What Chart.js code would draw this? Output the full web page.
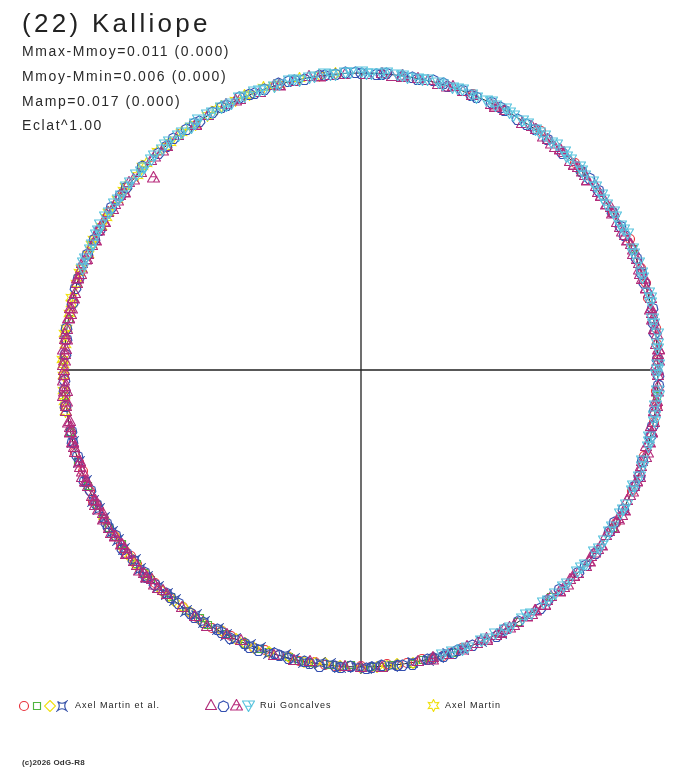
<!DOCTYPE html>
<html>
<head>
<meta charset="utf-8">
<script src="https://cdn.jsdelivr.net/npm/chart.js@4/dist/chart.umd.min.js"></script>
<style>
html, body { margin: 0; padding: 0; background: #fff; }
#wrap { position: relative; width: 688px; height: 768px; overflow: hidden; font-family: "Liberation Sans", Arial, sans-serif; color: #222; }
#wrap canvas { position: absolute; left: 0; top: 0; }
.t { position: absolute; white-space: nowrap; line-height: 1; }
.info { font-size: 14px; letter-spacing: 1.6px; color: #2a2a2a; }
.leg { font-size: 9px; letter-spacing: 1px; color: #222; }
</style>
</head>
<body>
<div id="wrap">
    <canvas id="lightcurve" width="688" height="768"></canvas>
    <div class="t" style="left:22px;top:10px;font-size:26px;letter-spacing:3.3px;">(22) Kalliope</div>
    <div class="t info" style="left:22px;top:44px;">Mmax-Mmoy=0.011 (0.000)</div>
    <div class="t info" style="left:22px;top:69px;">Mmoy-Mmin=0.006 (0.000)</div>
    <div class="t info" style="left:22px;top:94px;">Mamp=0.017 (0.000)</div>
    <div class="t info" style="left:22px;top:118px;">Eclat^1.00</div>
    <div class="t leg" style="left:75px;top:701px;">Axel Martin et al.</div>
    <div class="t leg" style="left:260px;top:701px;">Rui Goncalves</div>
    <div class="t leg" style="left:445px;top:701px;">Axel Martin</div>
    <div class="t" style="left:22px;top:759px;font-size:8px;font-weight:bold;letter-spacing:0.2px;color:#333;">(c)2026 OdG-R8</div>
</div>
<script>
// Phase in degrees (clockwise from top), magnitude offset in millimag

// Axel Martin et al.
const amCirclePhase = [22, 29, 37, 46, 58, 64, 70, 76, 82, 88, 94, 100, 107, 114, 121,
    160, 164, 168, 171, 175, 178, 182, 185, 189, 192, 196, 199, 203, 206, 210,
    213, 217, 220, 224, 227, 231, 234, 238, 242, 246, 250, 254, 258, 263, 269,
    162, 173, 180, 187, 194, 201, 208, 215, 222, 229, 236, 244, 252, 73, 85, 97];
const amCircleMag = [-3, 2, -6, -4, 1, -7, -2, 3, -5, 0,
    4, -1, 5, 2, -3, 4, -1, 5, 2, 6,
    -2, 3, 0, 5, -3, 1, 4, -2, 2, -4,
    0, 3, -1, 4, -2, 5, 1, -3, 2, 0,
    4, -2, 3, 1, -1,
    2, -3, 5, 0, 3, -2, 4, 1, -1, 3, 0, -4, 2, -5, 1, -3];

const amSquarePhase = [48, 66, 95, 122, 140, 148, 162, 166, 170, 174, 178, 182, 186, 190, 194, 198,
    203, 207, 211, 216, 220, 225, 229, 234, 238, 243, 247, 252, 258, 265, 272, 280,
    168, 176, 184, 192, 200, 213, 227, 240];
const amSquareMag = [2, -3, 0, -2, 3, 1, -1, 1, -4, 3,
    -1, 5, 0, -2, 4, 1, -3, 2, 0, -4,
    3, -1, 2, 4, -2, 1, 3, -3, 0, 2,
    -1, 2,
    3, -1, 2, -3, 1, 4, 0, -2];

const amDiamondPhase = [166, 170, 173, 177, 180, 184, 187, 191, 194, 198, 201, 205, 208, 212, 215, 219,
    222, 226, 229, 233, 236, 240, 175, 189, 203, 217, 231];
const amDiamondMag = [1, -2, 4, 0, -3, 2, 5, -1, 3, 0, -2, 1, 4, -3, 2, 0, -1, 3, -2, 1, 2, -1,
    -1, 2, 0, 3, -2];

const amCrossPhase = [152, 156, 160, 163, 167, 170, 174, 177, 181, 184, 188, 191, 195, 198, 202,
    205, 209, 212, 216, 219, 223, 226, 230, 233, 237, 240, 244, 248, 252, 256,
    165, 179, 186, 193, 200, 207, 214, 221, 228, 235, 242];
const amCrossMag = [-2, 3, 0, 5, -1, 2, -4, 4, 1, -2,
    3, 0, 6, -3, 2, -1, 4, 1, -2, 3,
    0, -3, 5, 1, -1, 2, -4, 3, 0, 2,
    1, -2, 4, 0, 3, -1, 5, 2, -3, 1, 3];

// Rui Goncalves
const rgTrianglePhase = [1, 4, 8, 11, 15, 18, 22, 26, 29, 33, 36, 39,
    41, 43, 45, 47, 50, 52, 54, 56, 58, 61, 63, 65, 67, 69, 72, 74, 76, 78, 80, 83, 85, 87, 89, 91,
    94, 96, 98, 100, 102, 105, 107, 109, 111, 113, 116, 118, 120, 122, 124, 127, 129, 131, 133, 135,
    138, 140, 142, 144, 146, 149, 151, 153, 155, 157, 159,
    163, 169, 176, 183, 190, 197, 204, 211, 217,
    221, 223, 225, 227, 230, 232, 234, 236, 238, 241, 243, 245, 247, 249, 252, 254, 256, 258, 260, 263,
    265, 267, 269, 271, 274, 276, 278, 280, 282, 285, 287, 289, 291, 293, 296, 298, 300, 302, 304, 307, 309,
    312, 315, 319, 322, 326, 329, 333, 336, 340, 343, 347, 350, 354, 357,
    42, 46, 49, 53, 57, 60, 64, 68, 71, 75, 79, 82, 86, 90, 93, 97, 101, 104, 108, 112,
    115, 119, 123, 126, 130, 134, 137, 141, 145, 148, 152, 156,
    222, 226, 229, 233, 237, 240, 244, 248, 251, 255, 259, 262, 266, 270, 273, 277, 281, 284, 288, 292,
    295, 299, 303, 306,
    344, 352, 6, 13, 20, 27, 35,
    166, 180, 193, 207, 214];
const rgTriangleMag = [2, -4, 5, -1, 3, -6, 0, 4, -3, 7,
    -2, 1, 6, -5, 3, -1, 8, -4, 2, 0,
    -7, 4, 1, -3, 5, -2, 6, 0, -5, 3,
    1, -6, 4, -2, 7, -1, 2, -4, 5, -3,
    0, 6, -2, 3, -7, 1, 4, -3, 2, -5,
    7, -1, 3, -4, 0, 5, -2, 6, -6, 1,
    3, -3, 4, 0, -5, 2, 6, -1, 3, -4,
    1, 5, -2, 4, -6, 0, 3, -3, 7, -1,
    2, -5, 4, 1, -2, 6, -4, 0, 3, -7,
    5, -1, 2, -3, 4, 0, -6, 3, 1, -2,
    6, -4, 2, 0, -3, 5, -1, 4, -5, 1,
    3, -2, 7, -4, 0, 2, -6, 5, -1, 3,
    -3, 4, 0, -5, 2, 6, -2, 1, -4, 3,
    1,
    -3, 5, -1, 2, -6, 4, 0, -2, 6, -4,
    1, 3, -5, 2, 0, -3, 7, -1, 4, -2,
    2, -6, 5, 0, -3, 3, -1, 6, -4, 1,
    -2, 4,
    5, -3, 1, 4, -5, 2, -1, 6, -2, 0,
    3, -4, 7, -1, 2, -6, 4, 0, -3, 5,
    1, -2, 3, -5,
    2, -1, 4, -3, 0, 5, -2,
    3, 1, -2, 4, 0];

const rgPolygonPhase = [321, 324, 327, 330, 333, 336, 338, 341, 344, 347, 349, 352, 355, 357,
    0, 3, 5, 8, 11, 14, 17, 20, 23, 26, 29, 32, 36, 39,
    43, 48, 53, 58, 63, 68, 73, 78, 83, 88, 93, 98, 103, 108, 113, 118, 123, 128, 133, 138, 143, 148, 153, 158,
    161, 164, 167, 170, 173, 176, 179, 182, 185, 188, 191, 194, 197, 200, 203, 206, 209, 212, 215, 218,
    221, 224, 227, 230, 233, 236, 239,
    243, 248, 253, 258, 263, 268, 273, 278, 283, 288, 293, 298, 303, 308, 313, 317,
    319, 326, 332, 339, 346, 353, 359, 4, 10, 16, 22, 28, 34,
    50, 61, 71, 81, 91, 101, 111, 121, 131, 141, 151,
    162, 166, 172, 178, 184, 190, 196, 202, 208, 214, 220, 226, 232, 238,
    246, 256, 266, 276, 286, 296, 306];
const rgPolygonMag = [-3, 1, 4, -1, 2, -4, 0, 3, -2, 1,
    5, -1, 2, -3, 0, 4, -2, 1, 3, -4,
    2, 0, 5, -1, 3, 6, -2, 1, 4, 0,
    -3, 2, 5, -1, 1, -2, 3, 0, -4, 2,
    -1, 3, 0, -3, 2, -2, 1, 4, -5, 0,
    -6, -2, 1, -4, -1, -7, -3, 2, -5, 0,
    -4, -8, -1, -3, 1, -6, -2, -5, 0, -3,
    -2, 4, 1, -3, 2, 0, -4, 3, -1, 2,
    -5, 1, 3, -2, 0, 4, -3, 2, -1, 1,
    3, -2, 0, -4, 2,
    2, -2, 0, 3, -3, 1, -1, 4, 0, -2, 3, -1, 1,
    -3, 2, 0, 4, -2, 1, -4, 3, -1, 2, 0,
    -5, -2, -6, -1, -4, -3, 0, -7, -2, -4, 1, -5, -3, -1,
    2, -3, 1, 3, -1, 0, -2];

const rgTriplePhase = [38, 42, 46, 50, 54, 58, 62, 66, 70, 74, 78, 82, 86, 90, 94, 98, 102, 106, 110, 114,
    118, 122, 126, 130, 134, 138, 142, 146, 150, 155,
    224, 228, 232, 236, 240, 244, 248, 252, 256, 260, 264, 268, 272, 276, 280, 284, 288, 292, 296, 300,
    305, 310, 313, 318,
    326, 335, 344, 352, 8, 17, 27,
    40, 48, 56, 64, 72, 80, 88, 96, 104, 112, 120, 128, 136, 144, 152,
    226, 234, 242, 250, 258, 266, 274, 282, 290, 298, 307, 316,
    160, 166];
const rgTripleMag = [2, -3, 1, 4, -2, 0, 3, -4, 1, -1,
    5, 0, -3, 2, -1, 4, 0, -2, 3, 1,
    -4, 2, 0, -3, 5, 1, -2, 3, -1, 4,
    0, -5, 2, 1, -3, 4, -1, 2, -2, 0,
    3, -4, 1, 5, -1, 2, -3, 0, 4, -2,
    1, -1, 50, 2, 3, -3, 0, 2, -2, 1,
    -1,
    1, -2, 3, 0, -4, 2, -1, 4, -3, 1, 0, 3, -2, 2, -1,
    -3, 2, 0, 4, -1, 1, -4, 3, 0, -2, 2, -1,
    1, -2];

const rgFanPhase = [290, 292, 295, 297, 299, 302, 304, 306, 309, 311, 313, 316, 318, 320, 323,
    325, 327, 330, 332, 334, 337, 339, 341, 344, 346, 348, 351, 353, 355, 358,
    0, 2, 4, 7, 9, 11, 13, 16, 18, 20, 22, 25, 27, 29, 31, 34, 36, 38, 40, 43, 45, 47, 49, 52, 54, 56, 58,
    61, 63, 66, 69, 72, 75, 77, 80, 83, 86, 89, 91, 94, 97, 100, 103, 105, 108, 111, 114, 117, 119,
    122, 125, 128, 131, 133, 136, 139, 142, 145, 147, 150, 153, 156, 159, 162,
    291, 294, 298, 301, 305, 308, 312, 315, 319, 322, 326, 329, 333, 336, 340, 343, 347, 350, 354, 357,
    1, 5, 8, 12, 15, 19, 23, 26, 30, 33, 37, 41, 44, 48, 51, 55, 59,
    62, 67, 71, 76, 81, 85, 90, 95, 99, 104, 109, 113, 118, 123, 127, 132, 137, 141, 146, 151, 155, 160, 164];
const rgFanMag = [1, -2, 3, 0, -4, 2, -1, 4, 0, -3,
    2, -1, 3, -2, 0, 4, -3, 1, -1, 2,
    0, -3, 3, 1, -2, 4, 0, -4, 2, -1,
    -2, 3, 0, -2, 4, 1, -3, 2, 0, -2,
    3, -1, 2, -4, 1, 0, 3, -2, 4, -3,
    1, -5, 2, 0, -3, 4, -1, 2, -6, 1,
    -2, 3, -4, 0, 2, -7, 1, -3, 4, -1,
    0, -5, 2, -2, 5, -3, 1, -4, 3, 0,
    -2, 4, -1, 2, -3, 0, 3, -1, 2, -4,
    1, 0, -2, 3,
    -1, 3, 0, -3, 2, -2, 4, 1, -4, 0,
    3, -1, 2, -3, 1, 4, -2, 0, 3, -1,
    2, -4, 1, 3, -2, 0, 4, -3, 2, -1,
    1, -2, 3, 0, -4, 2, -1,
    -3, 4, 0, -5, 2, -1, 3, -6, 1, 0,
    -2, 4, -3, 1, -4, 3, 0, -2, 5, -1,
    2, -3, 1];

// Axel Martin
const axStarPhase = [262, 266, 269, 272, 275, 278, 281, 284, 287, 290, 293, 296, 299, 302, 305,
    308, 311, 314, 317, 320, 323, 326, 329, 332, 335, 338, 341, 344, 348, 352,
    264, 271, 277, 283, 289, 295, 301, 307, 313, 319, 325, 331, 337, 343, 355];
const axStarMag = [-4, -6, -2, -5, 0, -3, 1, -4, -1, -3,
    2, -2, 0, -3, -1, -5, 1, -2, -4, 0,
    -3, 2, -1, -4, 0, -2, -5, 1, -3, -1,
    -5, -2, -6, -1, -4, -3, 0, -2, -5, 1, -3, -1, -4, 0, -2];

const observerNames = ['Axel Martin et al.', 'Rui Goncalves', 'Axel Martin'];

// geometry: unit circle = 297 px, centred at (361, 370)
const RANGE = 1.08;

function toXY(phases, mags) {
    const n = Math.min(phases.length, mags.length);
    const pts = [];
    for (let i = 0; i < n; i++) {
        const r = Math.pow(10, -0.4 * mags[i] / 1000);
        const a = phases[i] * Math.PI / 180;
        pts.push({ x: r * Math.sin(a), y: r * Math.cos(a) });
    }
    return pts;
}

function makeMarker(w, h, color, draw) {
    const c = document.createElement('canvas');
    c.width = w;
    c.height = h;
    const g = c.getContext('2d');
    g.strokeStyle = color;
    g.lineWidth = 1.15;
    g.beginPath();
    draw(g);
    g.stroke();
    return c;
}

function polygon(g, cx, cy, r, n, rot) {
    for (let i = 0; i < n; i++) {
        const a = rot + i * 2 * Math.PI / n;
        const x = cx + r * Math.sin(a), y = cy - r * Math.cos(a);
        if (i === 0) g.moveTo(x, y); else g.lineTo(x, y);
    }
    g.closePath();
}

const markers = {
    circle: makeMarker(12, 12, '#e8323c', g => g.arc(6, 6, 4.5, 0, Math.PI * 2)),
    square: makeMarker(12, 12, '#4fb43f', g => g.rect(2.5, 2.5, 7, 7)),
    diamond: makeMarker(12, 12, '#f0e010', g => polygon(g, 6, 6, 5.5, 4, 0)),
    cross: makeMarker(12, 12, '#3450a8', g => {
        g.moveTo(1.5, 1.5);
        g.quadraticCurveTo(6, 5, 10.5, 1.5);
        g.quadraticCurveTo(7, 6, 10.5, 10.5);
        g.quadraticCurveTo(6, 7, 1.5, 10.5);
        g.quadraticCurveTo(5, 6, 1.5, 1.5);
    }),
    triangle: makeMarker(12, 12, '#b02c7a', g => {
        g.moveTo(6, 0.5); g.lineTo(11.5, 10.5); g.lineTo(0.5, 10.5); g.closePath();
    }),
    heptagon: makeMarker(13, 13, '#3450b0', g => polygon(g, 6.5, 6.5, 5.5, 7, 0)),
    triple: makeMarker(13, 12, '#b82c7c', g => {
        g.moveTo(6.5, 0.5); g.lineTo(12.5, 11); g.lineTo(0.5, 11); g.closePath();
        g.moveTo(3.5, 5.75); g.lineTo(9.5, 5.75); g.lineTo(6.5, 11);
    }),
    fan: makeMarker(13, 12, '#58c4de', g => {
        g.moveTo(0.5, 1); g.lineTo(12.5, 1); g.lineTo(6.5, 11.5); g.closePath();
        g.moveTo(3.5, 6.25); g.lineTo(9.5, 6.25); g.lineTo(6.5, 1);
    }),
    star: makeMarker(13, 13, '#f0e010', g => {
        for (let i = 0; i < 12; i++) {
            const r = i % 2 === 0 ? 6 : 3.2;
            const a = i * Math.PI / 6;
            const x = 6.5 + r * Math.sin(a), y = 6.5 - r * Math.cos(a);
            if (i === 0) g.moveTo(x, y); else g.lineTo(x, y);
        }
        g.closePath();
    })
};

function series(label, phases, mags, marker) {
    return {
        label: label,
        data: toXY(phases, mags),
        pointStyle: marker,
        pointRadius: 5,
        showLine: false
    };
}

// frame: cross hairs and mean circle under the points, legend symbols on top
const framePlugin = {
    id: 'frame',
    beforeDatasetsDraw(chart) {
        const { ctx, scales: { x, y } } = chart;
        const cx = x.getPixelForValue(0), cy = y.getPixelForValue(0);
        const rad = x.getPixelForValue(1) - cx;
        ctx.save();
        ctx.strokeStyle = '#222';
        ctx.lineWidth = 1.3;
        ctx.beginPath();
        ctx.moveTo(x.getPixelForValue(-1), cy);
        ctx.lineTo(x.getPixelForValue(1), cy);
        ctx.moveTo(cx, y.getPixelForValue(1));
        ctx.lineTo(cx, y.getPixelForValue(-1));
        ctx.stroke();
        ctx.lineWidth = 1;
        ctx.beginPath();
        ctx.arc(cx, cy, rad, 0, Math.PI * 2);
        ctx.stroke();
        ctx.restore();
        ctx.imageSmoothingEnabled = false;
    },
    afterDraw(chart) {
        const ctx = chart.ctx;
        const legendMarks = [
            [markers.circle, 24, 706], [markers.square, 37, 706], [markers.diamond, 50, 706], [markers.cross, 62, 706],
            [markers.triangle, 211, 705], [markers.heptagon, 223, 706], [markers.triple, 236, 705], [markers.fan, 248, 706],
            [markers.star, 433, 705]
        ];
        legendMarks.forEach(([m, px, py]) => {
            ctx.drawImage(m, Math.round(px - m.width / 2), Math.round(py - m.height / 2));
        });
    }
};

// dataset 0 is painted last (on top)
new Chart(document.getElementById('lightcurve'), {
    type: 'scatter',
    data: {
        datasets: [
            series(observerNames[1], rgFanPhase, rgFanMag, markers.fan),
            series(observerNames[1], rgTriplePhase, rgTripleMag, markers.triple),
            series(observerNames[1], rgTrianglePhase, rgTriangleMag, markers.triangle),
            series(observerNames[1], rgPolygonPhase, rgPolygonMag, markers.heptagon),
            series(observerNames[2], axStarPhase, axStarMag, markers.star),
            series(observerNames[0], amCrossPhase, amCrossMag, markers.cross),
            series(observerNames[0], amDiamondPhase, amDiamondMag, markers.diamond),
            series(observerNames[0], amSquarePhase, amSquareMag, markers.square),
            series(observerNames[0], amCirclePhase, amCircleMag, markers.circle)
        ]
    },
    options: {
        responsive: false,
        animation: false,
        events: [],
        layout: {
            padding: { left: 40.24, right: 6.24, top: 49.24, bottom: 77.24 }
        },
        scales: {
            x: { type: 'linear', min: -RANGE, max: RANGE, display: false },
            y: { type: 'linear', min: -RANGE, max: RANGE, display: false }
        },
        plugins: {
            legend: { display: false },
            tooltip: { enabled: false }
        }
    },
    plugins: [framePlugin]
});
</script>
</body>
</html>
